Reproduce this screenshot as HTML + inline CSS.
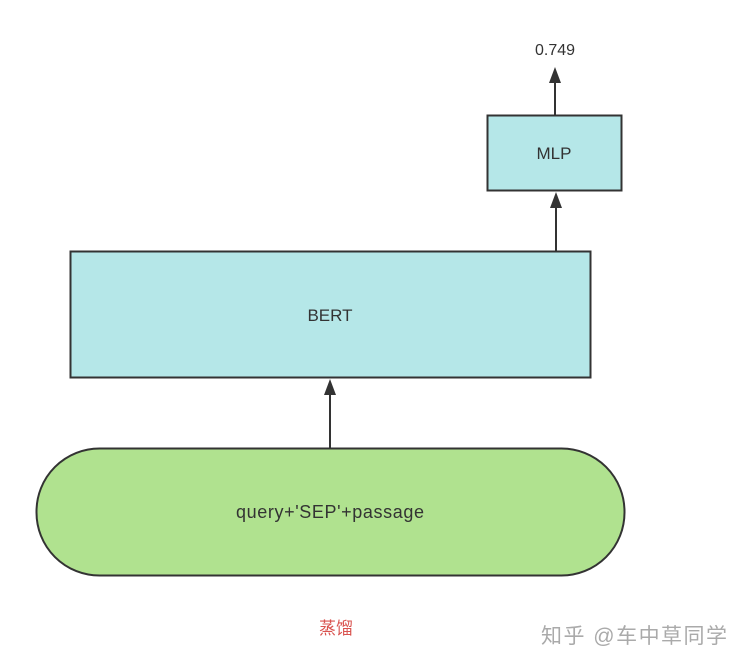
<!DOCTYPE html>
<html><head><style>body{margin:0;background:#fff}</style></head><body>
<svg width="746" height="668" xmlns="http://www.w3.org/2000/svg" style="display:block">
<rect width="746" height="668" fill="#fff"/>
<text x="555" y="55" font-family="Liberation Sans,sans-serif" font-size="16" fill="#333" text-anchor="middle">0.749</text>
<line x1="555" y1="115" x2="555" y2="80" stroke="#333" stroke-width="2"/>
<polygon points="555,67 549,83 561,83" fill="#333"/>
<rect x="487.5" y="115.5" width="134" height="75" fill="#b5e7e8" stroke="#333" stroke-width="2"/>
<text x="554" y="159" font-family="Liberation Sans,sans-serif" font-size="17" fill="#333" text-anchor="middle">MLP</text>
<line x1="556" y1="251" x2="556" y2="205" stroke="#333" stroke-width="2"/>
<polygon points="556,192 550,208 562,208" fill="#333"/>
<rect x="70.5" y="251.5" width="520" height="126" fill="#b5e7e8" stroke="#333" stroke-width="2"/>
<text x="330" y="321" font-family="Liberation Sans,sans-serif" font-size="17" fill="#333" text-anchor="middle">BERT</text>
<line x1="330" y1="448" x2="330" y2="392" stroke="#333" stroke-width="2"/>
<polygon points="330,379 324,395 336,395" fill="#333"/>
<rect x="36.5" y="448.5" width="588" height="127" rx="63" ry="63" fill="#b0e28f" stroke="#333" stroke-width="2"/>
<text x="330" y="518" font-family="Liberation Sans,sans-serif" font-size="18" fill="#333" text-anchor="middle" textLength="188">query+'SEP'+passage</text>
<text x="336" y="634" font-family="Liberation Sans,'Noto Sans CJK SC',sans-serif" font-size="17" fill="#d9534f" text-anchor="middle">蒸馏</text>
<text x="727" y="643" font-family="Liberation Sans,'Noto Sans CJK SC',sans-serif" font-size="21" fill="#aaa" text-anchor="end" textLength="186">知乎 @车中草同学</text>
</svg>
</body></html>
